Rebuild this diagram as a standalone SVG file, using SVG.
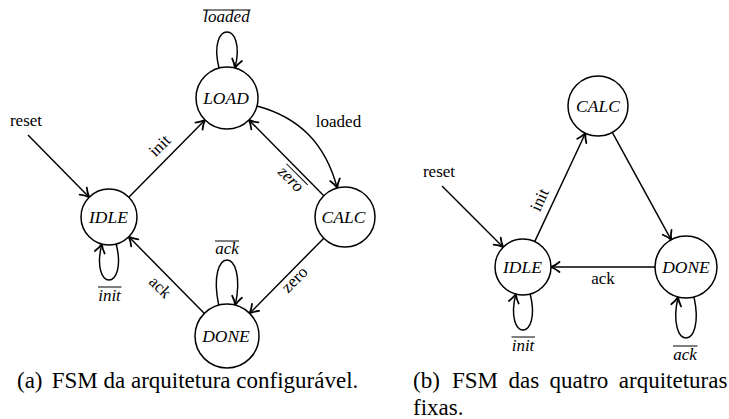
<svg xmlns="http://www.w3.org/2000/svg" width="729" height="419" viewBox="0 0 729 419">
<style>
.bg{fill:#fff}
.st circle{fill:#fff;stroke:#000;stroke-width:1.5}
.nl{font-style:italic;font-size:17.5px;text-anchor:middle;fill:#000}
.el{font-size:17px;text-anchor:middle;fill:#000}
.il{font-style:italic;font-size:17px;text-anchor:middle;fill:#000}
.ov{stroke:#000;stroke-width:1}
.cap{font-size:23px;fill:#000}
.e{fill:none;stroke:#000;stroke-width:1.45;marker-end:url(#arr)}
</style>
<defs>
<marker id="arr" viewBox="-11 -7 13 14" markerWidth="13" markerHeight="14" refX="0" refY="0" orient="auto" markerUnits="userSpaceOnUse" overflow="visible">
<path d="M-8.5,-5 C-5.5,-2.5 -1.8,-0.7 0,0 C-1.8,0.7 -5.5,2.5 -8.5,5" fill="none" stroke="#000" stroke-width="1.8" stroke-linecap="round" stroke-linejoin="round"/>
</marker>
</defs>
<rect class="bg" x="0" y="0" width="729" height="419"/>

<g id="connectors">
<line class="e" x1="28" y1="135" x2="89.2" y2="197.2"/>
<line class="e" x1="128.8" y1="197.2" x2="205" y2="120"/>
<path class="e" d="M256.9,106 C300.3,117.6 325.6,144.7 337.2,188"/>
<line class="e" x1="323.8" y1="195.8" x2="248.9" y2="119.9"/>
<line class="e" x1="323.8" y1="238.2" x2="249.6" y2="313.4"/>
<line class="e" x1="204.4" y1="313.4" x2="128.8" y2="236.8"/>
<path class="e" d="M219,68 C207,20 247,20 235,68"/>
<path class="e" d="M116.2,244 C128,292 90,292 101.8,244"/>
<path class="e" d="M218.7,305.1 C206,245 248,245 235.3,305.1"/>
<line class="e" x1="442" y1="186" x2="503.2" y2="247.2"/>
<line class="e" x1="534.7" y1="241.6" x2="585.4" y2="133.2"/>
<line class="e" x1="612.3" y1="132.4" x2="671.2" y2="239.8"/>
<line class="e" x1="655" y1="267" x2="551" y2="267"/>
<path class="e" d="M530.2,294 C542,342 504,342 515.8,294"/>
<path class="e" d="M694,297 C706,351.7 666,351.7 678,297"/>

<text class="el" font-family="Liberation Serif" x="26" y="126">reset</text>
<g transform="translate(160,146) rotate(-45)"><text class="el" font-family="Liberation Serif" x="0" y="5">init</text></g>
<text class="el" font-family="Liberation Serif" x="338.5" y="127">loaded</text>
<g transform="translate(290,180) rotate(45)"><text class="il" font-family="Liberation Serif" x="0" y="4">zero</text><line class="ov" x1="-14" y1="-9" x2="16" y2="-9"/></g>
<g transform="translate(295.5,280.5) rotate(-45)"><text class="el" font-family="Liberation Serif" x="0" y="4">zero</text></g>
<g transform="translate(160,287.5) rotate(45)"><text class="el" font-family="Liberation Serif" x="0" y="5">ack</text></g>
<text class="il" font-family="Liberation Serif" x="226.5" y="22">loaded</text><line class="ov" x1="203" y1="10" x2="250.5" y2="10"/>
<text class="il" font-family="Liberation Serif" x="109.5" y="301">init</text><line class="ov" x1="98" y1="287" x2="121.5" y2="287"/>
<text class="il" font-family="Liberation Serif" x="227" y="254">ack</text><line class="ov" x1="215" y1="241" x2="239" y2="241"/>

<text class="el" font-family="Liberation Serif" x="439" y="177">reset</text>
<g transform="translate(540,200) rotate(-65)"><text class="el" font-family="Liberation Serif" x="0" y="5">init</text></g>
<text class="el" font-family="Liberation Serif" x="603" y="284">ack</text>
<text class="il" font-family="Liberation Serif" x="523" y="351">init</text><line class="ov" x1="511.5" y1="337" x2="535" y2="337"/>
<text class="il" font-family="Liberation Serif" x="685" y="360">ack</text><line class="ov" x1="673" y1="346" x2="697.5" y2="346"/>
</g>

<g id="a-LOAD" class="st"><circle cx="227" cy="98" r="31"/><text class="nl" font-family="Liberation Serif" x="226" y="104">LOAD</text></g>
<g id="a-IDLE" class="st"><circle cx="109" cy="217" r="28"/><text class="nl" font-family="Liberation Serif" x="108.5" y="223">IDLE</text></g>
<g id="a-CALC" class="st"><circle cx="345" cy="217" r="30"/><text class="nl" font-family="Liberation Serif" x="343.5" y="223">CALC</text></g>
<g id="a-DONE" class="st"><circle cx="227" cy="336" r="32"/><text class="nl" font-family="Liberation Serif" x="226" y="342">DONE</text></g>

<g id="b-CALC" class="st"><circle cx="598" cy="106" r="30"/><text class="nl" font-family="Liberation Serif" x="598" y="112">CALC</text></g>
<g id="b-IDLE" class="st"><circle cx="523" cy="267" r="28"/><text class="nl" font-family="Liberation Serif" x="522.5" y="273">IDLE</text></g>
<g id="b-DONE" class="st"><circle cx="686" cy="267" r="31"/><text class="nl" font-family="Liberation Serif" x="686" y="273">DONE</text></g>

<g id="captions">
<text class="cap" font-family="Liberation Serif" x="17" y="388">(a)</text>
<text class="cap" font-family="Liberation Serif" x="51.7" y="388">FSM da arquitetura configurável.</text>
<text class="cap" font-family="Liberation Serif" x="413" y="388">(b)</text>
<text class="cap" font-family="Liberation Serif" x="452" y="388" word-spacing="4.7">FSM das quatro arquiteturas</text>
<text class="cap" font-family="Liberation Serif" x="413" y="415">fixas.</text>
</g>
</svg>
